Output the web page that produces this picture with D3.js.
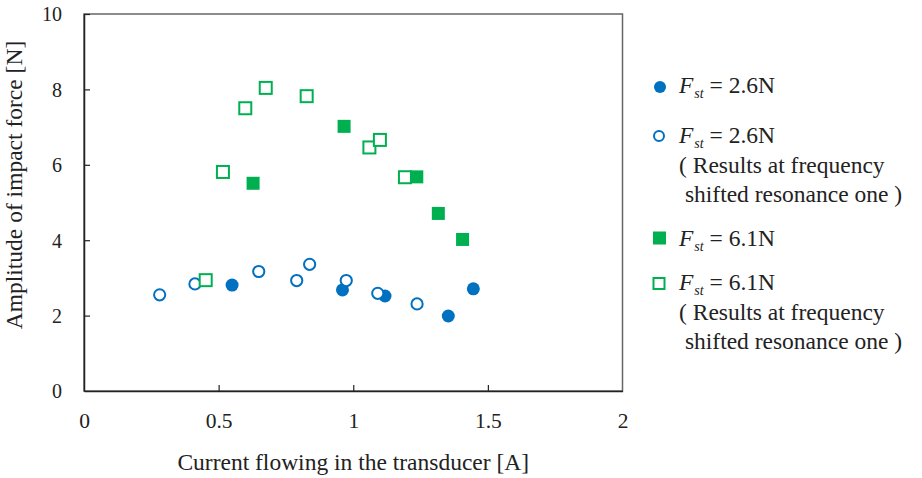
<!DOCTYPE html>
<html>
<head>
<meta charset="utf-8">
<script src="https://cdn.jsdelivr.net/npm/d3@7"></script>
<style>
  html, body { margin: 0; padding: 0; background: #fff; }
  svg { display: block; }
  svg text { font-family: "Liberation Serif", "Times New Roman", Times, Tinos, "DejaVu Serif", "Noto Serif", serif !important; fill: #222; }
</style>
</head>
<body>
<svg id="chart" width="922" height="478"></svg>
<script>
// ---- data ----
const xFilled26 = [0.55, 0.96, 1.118, 1.353, 1.446];
const yFilled26 = [2.81, 2.68, 2.52, 1.99, 2.71];
const xOpen26 = [0.281, 0.412, 0.649, 0.790, 0.838, 0.974, 1.091, 1.237];
const yOpen26 = [2.55, 2.84, 3.17, 2.93, 3.36, 2.93, 2.59, 2.31];
const xFilled61 = [0.628, 0.966, 1.236, 1.316, 1.406];
const yFilled61 = [5.51, 7.02, 5.68, 4.71, 4.02];
const xOpen61 = [0.452, 0.516, 0.599, 0.675, 0.827, 1.06, 1.099, 1.192];
const yOpen61 = [2.94, 5.81, 7.50, 8.04, 7.82, 6.46, 6.66, 5.67];
const xTicks = [0, 0.5, 1, 1.5, 2];
const yTicks = [0, 2, 4, 6, 8, 10];
const xTitle = "Current flowing in the transducer [A]";
const yTitle = "Amplitude of impact force [N]";
const legendItems = [
  { value: "2.6N", sub: [] },
  { value: "2.6N", sub: ["( Results at frequency", " shifted resonance one )"] },
  { value: "6.1N", sub: [] },
  { value: "6.1N", sub: ["( Results at frequency", " shifted resonance one )"] }
];

const BLUE = "#0070C0", GREEN = "#00B050";
const FONT = '"Liberation Serif", "Times New Roman", Times, Tinos, "DejaVu Serif", serif';
const svg = d3.select("#chart");
const L = 84, R = 622.5, T = 14, B = 391;
const x = d3.scaleLinear().domain([0, 2]).range([L, R]);
const y = d3.scaleLinear().domain([0, 10]).range([B, T]);

// frame (top/right)
svg.append("rect").attr("x", L).attr("y", T).attr("width", R - L).attr("height", B - T)
  .attr("fill", "none").attr("stroke", "#666").attr("stroke-width", 1.5);

// axes
const gx = svg.append("g").attr("transform", `translate(0,${B})`)
  .call(d3.axisBottom(x).tickValues(xTicks).tickSize(-6).tickSizeOuter(0).tickPadding(14)
    .tickFormat(d => String(d)));
gx.attr("font-family", FONT);
gx.select(".domain").attr("stroke", "#222").attr("stroke-width", 1.5);
gx.selectAll(".tick line").attr("stroke", "#222").attr("stroke-width", 1.2);
gx.selectAll(".tick text").attr("font-size", "21.5px").attr("fill", "#222")
  .attr("y", 0).attr("dy", null).attr("transform", "translate(0,37)");

const gy = svg.append("g").attr("transform", `translate(${L},0)`)
  .call(d3.axisLeft(y).tickValues(yTicks).tickSize(-6).tickSizeOuter(0).tickPadding(22)
    .tickFormat(d => String(d)));
gy.attr("font-family", FONT);
gy.select(".domain").attr("stroke", "#222").attr("stroke-width", 1.5);
gy.selectAll(".tick line").attr("stroke", "#222").attr("stroke-width", 1.2);
gy.selectAll(".tick text").attr("font-size", "20px").attr("fill", "#222")
  .attr("x", -22).attr("dy", "0.34em");
gy.selectAll(".tick").filter(d => d === 0).select("line").remove();
gx.selectAll(".tick").filter(d => d === 0 || d === 2).select("line").remove();

// titles
svg.append("text").attr("x", (L + R) / 2).attr("y", 470).attr("text-anchor", "middle")
  .attr("font-family", FONT).attr("font-size", "23.5px").text(xTitle);
svg.append("text").attr("transform", "translate(22,185) rotate(-90)").attr("text-anchor", "middle")
  .attr("font-family", FONT).attr("font-size", "23.5px").text(yTitle);

// marks
const pts = (xs, ys) => xs.map((v, i) => ({ x: v, y: ys[i] }));
svg.append("g").selectAll("circle").data(pts(xFilled26, yFilled26)).join("circle")
  .attr("cx", d => x(d.x)).attr("cy", d => y(d.y)).attr("r", 6.5).attr("fill", BLUE);
svg.append("g").selectAll("circle").data(pts(xOpen26, yOpen26)).join("circle")
  .attr("cx", d => x(d.x)).attr("cy", d => y(d.y)).attr("r", 5.6)
  .attr("fill", "#fff").attr("stroke", BLUE).attr("stroke-width", 2);
svg.append("g").selectAll("rect").data(pts(xFilled61, yFilled61)).join("rect")
  .attr("x", d => x(d.x) - 6.5).attr("y", d => y(d.y) - 6.5).attr("width", 13).attr("height", 13)
  .attr("fill", GREEN);
svg.append("g").selectAll("rect").data(pts(xOpen61, yOpen61)).join("rect")
  .attr("x", d => x(d.x) - 6).attr("y", d => y(d.y) - 6).attr("width", 12).attr("height", 12)
  .attr("fill", "#fff").attr("stroke", GREEN).attr("stroke-width", 2);

// legend
const legBase = [93, 143, 245.5, 290];
const mx = 660, tx = 679;
const lg = svg.append("g").attr("font-family", FONT);
legendItems.forEach((it, i) => {
  const by = legBase[i];
  const my = by - 6;
  if (i === 0) lg.append("circle").attr("cx", mx).attr("cy", my).attr("r", 6).attr("fill", BLUE);
  if (i === 1) lg.append("circle").attr("cx", mx - 1).attr("cy", my - 1).attr("r", 5)
    .attr("fill", "#fff").attr("stroke", BLUE).attr("stroke-width", 2);
  if (i === 2) lg.append("rect").attr("x", mx - 7).attr("y", my - 8).attr("width", 13).attr("height", 13)
    .attr("fill", GREEN);
  if (i === 3) lg.append("rect").attr("x", mx - 6.5).attr("y", my - 6).attr("width", 11).attr("height", 11)
    .attr("fill", "#fff").attr("stroke", GREEN).attr("stroke-width", 2);
  const t = lg.append("text").attr("x", tx).attr("y", by).attr("font-size", "23.5px");
  t.append("tspan").attr("font-style", "italic").text("F");
  t.append("tspan").attr("font-style", "italic").attr("font-size", "14px").attr("dy", 5).attr("dx", 1).text("st");
  t.append("tspan").attr("dy", -5).text("\u00A0=\u00A0" + it.value);
  it.sub.forEach((s, j) => {
    lg.append("text").attr("x", tx).attr("y", by + 29.5 * (j + 1)).attr("font-size", "23.5px")
      .style("white-space", "pre").text(s);
  });
});
</script>
</body>
</html>
